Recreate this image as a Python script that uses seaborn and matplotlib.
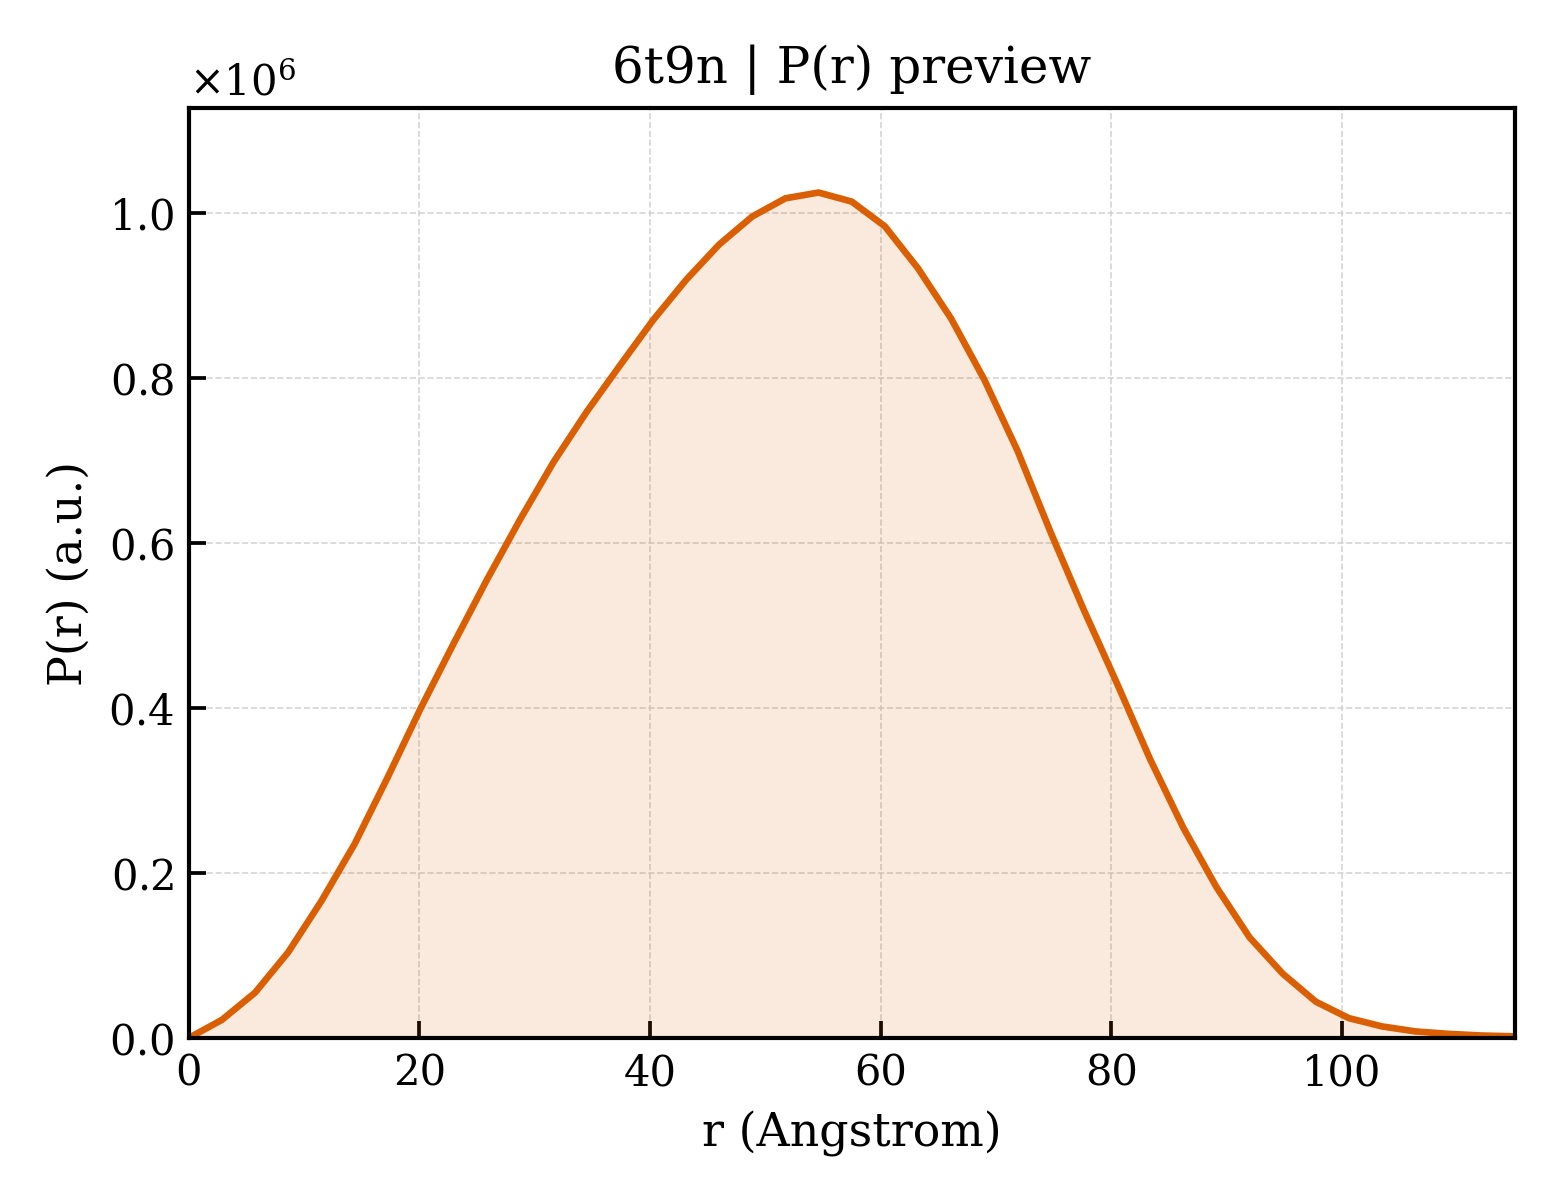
import numpy as np
import pandas as pd
import matplotlib
matplotlib.use("Agg")
import matplotlib.pyplot as plt
import seaborn as sns

# P(r) preview values (41 points, 0..115 A)
r_values = np.linspace(0, 115, 41)
p_values = [0.000, 0.022, 0.055, 0.104, 0.166, 0.235, 0.316, 0.400,
            0.479, 0.556, 0.629, 0.698, 0.759, 0.815, 0.870, 0.919,
            0.962, 0.996, 1.018, 1.025, 1.014, 0.984, 0.933, 0.872,
            0.798, 0.712, 0.613, 0.519, 0.430, 0.338, 0.255, 0.183,
            0.122, 0.078, 0.044, 0.024, 0.014, 0.008, 0.005, 0.003, 0.002]
p_values = np.array(p_values) * 1e6

df = pd.DataFrame({"r": r_values, "P": p_values})

sns.set_style("ticks", {"axes.edgecolor": "black", "text.color": "black",
                        "axes.labelcolor": "black", "xtick.color": "black",
                        "ytick.color": "black"})
plt.rcParams['font.family'] = ['DejaVu Serif']
plt.rcParams['mathtext.fontset'] = 'dejavuserif'

line_color = "#d95f02"

fig, ax = plt.subplots(figsize=(5.2, 4), dpi=300)
fig.subplots_adjust(left=0.121, right=0.971, top=0.91, bottom=0.135)

sns.lineplot(data=df, x="r", y="P", color=line_color, linewidth=1.6, ax=ax)
ax.fill_between(df["r"], df["P"], color=line_color, alpha=0.13, linewidth=0)

ax.set_xlim(0, 115)
ax.set_ylim(0, df["P"].max() * 1.1)

ax.grid(True, linestyle="--", linewidth=0.4, color="#d0d0d0", alpha=0.9)
ax.tick_params(direction="in", length=4, width=0.9, labelsize=10, colors="black")
for s in ax.spines.values():
    s.set_linewidth(1.0)
    s.set_color("black")

ax.ticklabel_format(axis="y", style="sci", scilimits=(0, 0), useMathText=True)
ax.yaxis.get_offset_text().set_fontsize(10)
ax.yaxis.get_offset_text().set_color("black")

ax.set_xlabel("r (Angstrom)", fontsize=11, color="black")
ax.set_ylabel("P(r) (a.u.)", fontsize=11, color="black")
ax.set_title("6t9n | P(r) preview", fontsize=12, color="black")

plt.savefig("out.png", dpi=300)
